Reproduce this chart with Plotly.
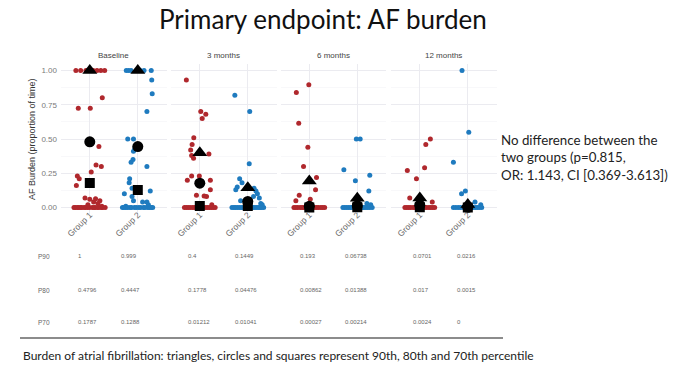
import plotly.graph_objects as go

# ---------------- data ----------------
panels = ["Baseline", "3 months", "6 months", "12 months"]
groups = ["Group 1", "Group 2"]
y_ticks = [0, 0.25, 0.5, 0.75, 1.0]
y_tick_labels = ["0.00", "0.25", "0.50", "0.75", "1.00"]

# individual patients (value, jitter offset) per panel / group
base_g1_vals = [1, 1, 1, 1, 1, 1, 1, 0.80, 0.725, 0.725, 0.445, 0.31, 0.30, 0.26, 0.23, 0.21, 0.16,
                0.07, 0.065, 0.06, 0.05, 0.04, 0.03, 0.02, 0.01,
                0, 0, 0, 0, 0, 0, 0, 0, 0, 0, 0, 0, 0, 0, 0, 0, 0, 0]
base_g1_jit = [-0.29, -0.19, -0.08, 0.07, 0.15, 0.23, 0.31, 0.26, -0.24, 0.01, 0.19, 0.13, 0.24, 0.03, -0.26, -0.22, -0.28,
               -0.10, 0.12, 0.0, 0.21, 0.08, 0.17, -0.04, 0.25,
               -0.33, -0.30, -0.26, -0.23, -0.19, -0.17, -0.12, -0.09, -0.05, -0.01, 0.05, 0.09, 0.11, 0.16, 0.19, 0.24, 0.27, 0.32]

base_g2_vals = [1, 1, 1, 1, 1, 1, 0.93, 0.83, 0.70, 0.50, 0.50, 0.43, 0.41, 0.35, 0.33, 0.30, 0.21, 0.18, 0.14,
                0.12, 0.10, 0.08, 0.05, 0.04, 0.04, 0.02, 0.01,
                0, 0, 0, 0, 0, 0, 0, 0, 0, 0, 0, 0, 0, 0, 0, 0]
base_g2_jit = [-0.24, -0.19, -0.14, 0.05, 0.13, 0.28, 0.29, 0.30, 0.19, -0.21, -0.09, -0.06, -0.09, -0.10, -0.14, 0.19, -0.17, -0.18, -0.12,
               0.26, -0.28, -0.12, -0.09, 0.10, 0.19, 0.22, -0.25,
               -0.32, -0.29, -0.25, -0.21, -0.16, -0.13, -0.07, -0.03, 0.02, 0.06, 0.12, 0.15, 0.21, 0.24, 0.28, 0.31]

m3_g1_vals = [0.93, 0.70, 0.68, 0.65, 0.51, 0.46, 0.42, 0.39, 0.38, 0.36, 0.23, 0.23, 0.20, 0.20, 0.13,
              0.09, 0.085, 0.08, 0.02,
              0, 0, 0, 0, 0, 0, 0, 0, 0, 0, 0, 0, 0, 0, 0, 0]
m3_g1_jit = [-0.28, 0.02, 0.125, 0.05, -0.125, -0.16, -0.19, 0.19, -0.17, -0.13, -0.17, -0.01, -0.26, 0.22, 0.22,
             -0.07, 0.09, 0.14, 0.25,
             -0.32, -0.28, -0.24, -0.2, -0.15, -0.11, -0.06, -0.02, 0.03, 0.07, 0.12, 0.16, 0.2, 0.24, 0.28, 0.32]

m3_g2_vals = [0.82, 0.70, 0.32, 0.21, 0.18, 0.15, 0.14, 0.13, 0.12, 0.10, 0.08, 0.07, 0.05, 0.03, 0.02,
              0, 0, 0, 0, 0, 0, 0, 0, 0, 0, 0, 0, 0, 0, 0, 0, 0, 0]
m3_g2_jit = [-0.27, 0.04, 0.03, -0.17, -0.12, -0.22, 0.13, -0.25, 0.17, 0.2, 0.12, 0.24, -0.15, 0.27, 0.3,
             -0.33, -0.29, -0.26, -0.22, -0.18, -0.14, -0.1, -0.05, -0.01, 0.04, 0.08, 0.11, 0.15, 0.19, 0.23, 0.26, 0.29, 0.33]

m6_g1_vals = [0.895, 0.84, 0.615, 0.44, 0.30, 0.22, 0.13, 0.09, 0.06, 0.05,
              0, 0, 0, 0, 0, 0, 0, 0, 0, 0, 0, 0, 0, 0, 0, 0]
m6_g1_jit = [-0.01, -0.27, -0.22, -0.03, -0.12, 0.15, 0.13, -0.21, 0.02, -0.28,
             -0.32, -0.28, -0.24, -0.19, -0.15, -0.11, -0.07, -0.03, 0.03, 0.07, 0.11, 0.15, 0.19, 0.24, 0.28, 0.32]

m6_g2_vals = [0.50, 0.50, 0.275, 0.235, 0.195, 0.12, 0.03, 0.02,
              0, 0, 0, 0, 0, 0, 0, 0, 0, 0, 0, 0, 0, 0, 0, 0, 0, 0]
m6_g2_jit = [-0.02, 0.06, -0.28, 0.26, -0.04, 0.24, 0.2, 0.28,
             -0.3, -0.26, -0.22, -0.18, -0.14, -0.1, -0.06, -0.02, 0.03, 0.07, 0.11, 0.14, 0.18, 0.22, 0.26, 0.31]

m12_g1_vals = [0.50, 0.46, 0.29, 0.27, 0.21, 0.07, 0.04,
               0, 0, 0, 0, 0, 0, 0, 0, 0, 0, 0, 0, 0, 0, 0]
m12_g1_jit = [0.22, 0.125, 0.1, -0.26, -0.07, -0.21, 0.26,
              -0.31, -0.27, -0.23, -0.19, -0.14, -0.1, -0.05, 0.0, 0.05, 0.1, 0.14, 0.19, 0.23, 0.27, 0.31]

m12_g2_vals = [1.0, 0.55, 0.33, 0.12, 0.10, 0.04, 0.02,
               0, 0, 0, 0, 0, 0, 0, 0, 0, 0, 0, 0, 0]
m12_g2_jit = [-0.12, 0.02, -0.3, -0.05, -0.13, 0.15, 0.27,
              -0.3, -0.25, -0.2, -0.15, -0.09, -0.04, 0.02, 0.07, 0.11, 0.16, 0.2, 0.24, 0.29]

# percentiles per panel, [Group 1, Group 2]
p90 = [[1, 0.999], [0.4, 0.1449], [0.193, 0.06738], [0.0701, 0.0216]]
p80 = [[0.4796, 0.4447], [0.1778, 0.04476], [0.00862, 0.01388], [0.017, 0.0015]]
p70 = [[0.1787, 0.1288], [0.01212, 0.01041], [0.00027, 0.00214], [0.0024, 0]]

points = [
    [(base_g1_vals, base_g1_jit), (base_g2_vals, base_g2_jit)],
    [(m3_g1_vals, m3_g1_jit), (m3_g2_vals, m3_g2_jit)],
    [(m6_g1_vals, m6_g1_jit), (m6_g2_vals, m6_g2_jit)],
    [(m12_g1_vals, m12_g1_jit), (m12_g2_vals, m12_g2_jit)],
]

title_text = "Primary endpoint: AF burden"
y_title = "AF Burden (proportion of time)"
note_text = "No difference between the<br>two groups (p=0.815,<br>OR: 1.143, CI [0.369-3.613])"
footer_text = "Burden of atrial fibrillation: triangles, circles and squares represent 90th, 80th and 70th percentile"

# ---------------- layout helpers ----------------
W, H = 681, 369
def px(x):
    return x / W
def py(y):
    return 1 - y / H

group_colors = ["#b0282d", "#1f7bbf"]
panel_left = [61, 171, 280.5, 391]
panel_w = 105.6
y_top_px, y_bot_px = 63.6, 214.4

fig = go.Figure()
layout = dict(
    width=W, height=H, margin=dict(l=0, r=0, t=0, b=0),
    paper_bgcolor="white", plot_bgcolor="white", showlegend=False,
    font=dict(family="Liberation Sans, Arial", color="#555"),
)

minor_vals = [0.125, 0.375, 0.625, 0.875]
for i, name in enumerate(panels):
    sfx = "" if i == 0 else str(i + 1)
    xa = "x" + sfx
    ya = "y" + sfx
    layout["xaxis" + sfx] = dict(
        domain=[px(panel_left[i]), px(panel_left[i] + panel_w)],
        range=[0.4, 2.6], tickvals=[1, 2], ticktext=groups, tickangle=-45,
        tickfont=dict(size=8.5, color="#6a6a6a"), showgrid=True, gridcolor="#ebebf0", gridwidth=1,
        zeroline=False, showline=False, ticks="", anchor=ya, fixedrange=True,
        ticklabelstandoff=-7,
    )
    layout["yaxis" + sfx] = dict(
        domain=[py(y_bot_px), py(y_top_px)], range=[-0.05, 1.05],
        tickvals=y_ticks, ticktext=y_tick_labels, showticklabels=(i == 0),
        tickfont=dict(size=8, color="#7a7a7a"), showgrid=True, gridcolor="#ebebf0", gridwidth=1,
        minor=dict(tickvals=minor_vals, showgrid=True, gridcolor="#f4f4f7", gridwidth=0.6),
        zeroline=False, showline=False, ticks="", anchor=xa, fixedrange=True,
        ticklabelstandoff=3,
    )
    for g in range(2):
        vals, jit = points[i][g]
        fig.add_trace(go.Scatter(
            x=[g + 1 + j for j in jit], y=vals, mode="markers", xaxis=xa, yaxis=ya,
            marker=dict(size=5, color=group_colors[g], line=dict(width=0)), hoverinfo="skip",
        ))
    for vals, sym, size in ((p90, "triangle-up", 13), (p80, "circle", 11), (p70, "square", 10)):
        fig.add_trace(go.Scatter(
            x=[1, 2], y=vals[i], mode="markers", xaxis=xa, yaxis=ya,
            marker=dict(symbol=sym, size=size, color="black", line=dict(width=0)), hoverinfo="skip",
        ))

annotations = []
# title
annotations.append(dict(text=title_text, x=px(323), y=py(19), xref="paper", yref="paper",
                        showarrow=False, xanchor="center", yanchor="middle",
                        font=dict(family="Lato", size=26, color="#111")))
# strip titles
for i, name in enumerate(panels):
    annotations.append(dict(text=name, x=px(panel_left[i] + panel_w / 2), y=py(56), xref="paper", yref="paper",
                            showarrow=False, xanchor="center", yanchor="middle",
                            font=dict(size=8, color="#444")))
# y-axis title
annotations.append(dict(text=y_title, x=px(32), y=py(139), xref="paper", yref="paper", textangle=-90,
                        showarrow=False, xanchor="center", yanchor="middle",
                        font=dict(size=9, color="#333")))
# table
row_names = ["P90", "P80", "P70"]
row_y = [256, 290, 322]
col_x = [76, 119, 186, 233, 298, 343, 411, 455]
for r, (rname, rvals) in enumerate(zip(row_names, [p90, p80, p70])):
    annotations.append(dict(text=rname, x=px(36), y=py(row_y[r]), xref="paper", yref="paper",
                            showarrow=False, xanchor="left", yanchor="middle",
                            font=dict(size=6.5, color="#666")))
    flat = [v for pair in rvals for v in pair]
    for c, v in enumerate(flat):
        annotations.append(dict(text=f"{v:g}", x=px(col_x[c]), y=py(row_y[r]), xref="paper", yref="paper",
                                showarrow=False, xanchor="left", yanchor="middle",
                                font=dict(size=6, color="#666")))
# note
annotations.append(dict(text=note_text, x=px(499), y=py(157), xref="paper", yref="paper",
                        showarrow=False, xanchor="left", yanchor="middle", align="left",
                        font=dict(family="Lato", size=13.3, color="#222")))
# footer
annotations.append(dict(text=footer_text, x=px(21), y=py(355), xref="paper", yref="paper",
                        showarrow=False, xanchor="left", yanchor="middle",
                        font=dict(family="Lato", size=12, color="#222")))
layout["annotations"] = annotations
layout["shapes"] = [dict(type="line", xref="paper", yref="paper", x0=px(20), x1=px(503),
                         y0=py(338), y1=py(338), line=dict(color="#8c8c8c", width=2))]

fig.update_layout(**layout)
fig.write_html("out.html", config={"displayModeBar": False, "staticPlot": True},
               post_script="document.body.style.margin='0px';document.body.style.overflow='hidden';")
